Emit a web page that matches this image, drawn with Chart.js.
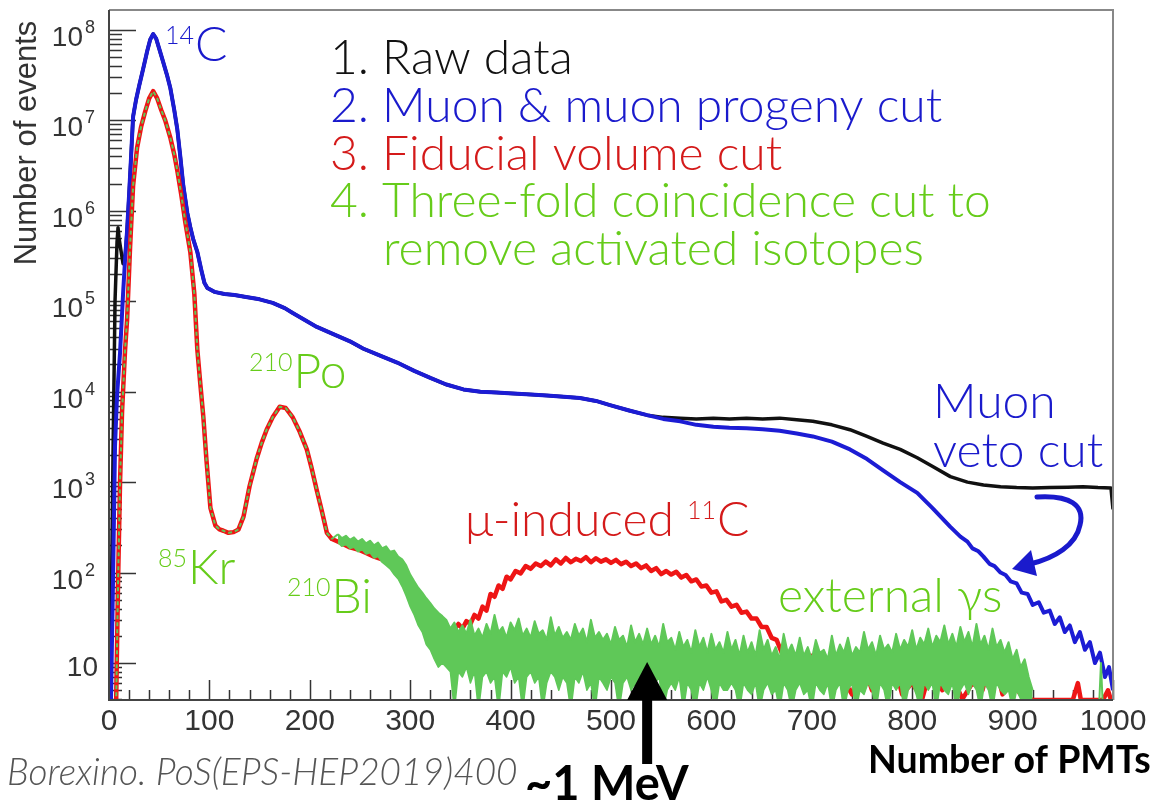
<!DOCTYPE html>
<html>
<head>
<meta charset="utf-8">
<script src="https://cdn.jsdelivr.net/npm/chart.js@4.4.0/dist/chart.umd.min.js"></script>
<style>
html,body{margin:0;padding:0;background:#fff;}
#wrap{width:1154px;height:802px;}
</style>
</head>
<body>
<div id="wrap"><canvas id="c" width="1154" height="802"></canvas></div>
<script>
// 2. muon & muon progeny cut (blue)
const muonX = [0,2,4,6,8,11,14,16,18,20,22,24,27,30,34,38,41,44,47,50,54,58,61,65,68,71,74,78,81,84,88,92,95,98,105,115,125,135,150,163,175,183,195,207,220,240,253,270,287,304,320,336,353,370,386,398,420,436,453,469,485,499,518,536,552,569,585,602,618,635,651,668,685,701,720,738,755,771,788,805,820,838,848,855,860,866,871,877,882,888,893,898,904,909,915,920,926,931,937,942,947,952,957,962,967,972,977,982,987,992,996,1000];
const muonY = [3,4,80,2500,9000,2.7e4,1.2e5,2.9e5,6e5,1.5e6,4e6,1.1e7,1.7e7,2.4e7,3.7e7,5.8e7,7.8e7,9e7,8e7,6.2e7,4.4e7,3.1e7,2.3e7,1.3e7,8e6,4e6,1.9e6,9.5e5,6.6e5,4.8e5,3.5e5,2.2e5,1.6e5,1.4e5,1.27e5,1.2e5,1.17e5,1.12e5,1.05e5,9.6e4,8.4e4,7.4e4,6.2e4,5.2e4,4.5e4,3.6e4,3.0e4,2.5e4,2.1e4,1.7e4,1.42e4,1.2e4,1.06e4,1e4,9.8e3,9.6e3,9.3e3,9.1e3,8.8e3,8.5e3,7.9e3,7.1e3,6.2e3,5.5e3,5.0e3,4.7e3,4.3e3,4.1e3,4.0e3,3.95e3,3.85e3,3.7e3,3.45e3,3.2e3,2.8e3,2.3e3,1.8e3,1.35e3,1.0e3,760,520,320,250,220,185,172,150,125,118,100,94,80,76,60,58,44,47,36,38,27,32,22,26,17,22,14,17,10,13,7,9,5];

// 1. raw data (black): own values below 20 and above 540, follows the blue curve in between
const rawLowX = [0,2,4,6,8,9,10,12,14,16,18];
const rawLowY = [3,20,2000,1e5,4.5e5,6.5e5,5e5,3.6e5,2.6e5,3e5,6e5];
const rawHighX = [552,569,585,602,618,635,651,668,685,701,720,738,755,771,788,805,820,838,855,871,888,904,920,937,955,970,985,998,1000];
const rawHighY = [5.2e3,5.1e3,5.0e3,5.1e3,5.0e3,5.1e3,5.0e3,5.1e3,4.9e3,4.7e3,4.3e3,3.8e3,3.2e3,2.7e3,2.3e3,1.86e3,1.5e3,1.15e3,1.0e3,930,890,870,860,870,880,890,870,860,500];

// 3. fiducial volume cut (red) and 4. three-fold coincidence (green) share the low-energy part
const fidPeakX = [0,7,9,11,13,16,18,21,24,28,32,36,40,44,48,52,56,61,65,68,72,76,81,85,88,91,94,97,101,106,110,114,119,124,129,134,140,147,152,157,163,170,176,183,190,197,202,207,212,217,222];
const fidPeakY = [3,3,76,1000,6000,2.9e4,6.2e4,4e5,1.9e6,5e6,8.5e6,1.25e7,1.75e7,2.1e7,1.75e7,1.3e7,1e7,6.5e6,4.2e6,2.8e6,1.5e6,7.5e5,3.5e5,1.2e5,2.9e4,1.2e4,5200,1800,520,330,300,290,275,280,300,415,900,1800,2700,3800,5200,6800,6600,5200,3600,2300,1400,810,480,275,235];

const fidTailX = [226,232,240,248,256,264,272,280,288,296,304,312,320,328,336,342,348,352,356,360,364,368,372,376,380,384,388,392,396,400,405,410,415,420,425,430,435,440,445,450,455,460,465,470,475,480,485,490,495,500,505,510,515,520,525,530,535,540,545,550,555,560,565,570,575,580,585,590,595,600,605,610,615,620,625,630,635,640,645,650,655,660,665,670,675,680,690,700,710,720,730,740,750,760,770,780,790,800,810,820,830,840,850,860,870,880,890,900,910,920,930,960,965,968,990,995,998,1000];
const fidTailY = [225,210,190,180,165,150,140,122,105,75,54,40,32,27,24,22,27,24,29,27,34,31,42,38,58,54,72,66,90,84,104,98,118,110,126,118,132,120,140,126,145,130,142,134,148,130,144,132,140,128,138,124,132,118,126,112,120,104,112,96,104,95,102,88,94,80,84,70,72,60,62,48,50,42,44,36,37,31,31,25,25,19,18,13,12,9,8,12,8,5,7,4.5,11,5,7,12,4.5,6,4,10,5,7,4,6,5,13,4.5,6,4.2,3.9,3.9,3.9,6,3.9,3.9,5,3.9,3.9];

// green noisy histogram band after the 210Po peak: upper and lower edge, 228..920 every 4 PMTs
const tfcBandX = [228,232,236,240,244,248,252,256,260,264,268,272,276,280,284,288,292,296,300,304,308,312,316,320,324,328,332,336,340,344,348,352,356,360,364,368,372,376,380,384,388,392,396,400,404,408,412,416,420,424,428,432,436,440,444,448,452,456,460,464,468,472,476,480,484,488,492,496,500,504,508,512,516,520,524,528,532,536,540,544,548,552,556,560,564,568,572,576,580,584,588,592,596,600,604,608,612,616,620,624,628,632,636,640,644,648,652,656,660,664,668,672,676,680,684,688,692,696,700,704,708,712,716,720,724,728,732,736,740,744,748,752,756,760,764,768,772,776,780,784,788,792,796,800,804,808,812,816,820,824,828,832,836,840,844,848,852,856,860,864,868,872,876,880,884,888,892,896,900,904,908,912,916,920];
const tfcTopY = [
  265,240,255,230,245,220,235,210,225,200,215,185,195,170,175,150,140,120,95,80,68,60,52,46,40,36,33,
  30,24,28,22,26,21,30,20,24,19,
  27,21,34,22,25,19,28,23,31,20,
  24,19,29,21,23,18,32,20,25,19,
  22,18,27,20,24,17,30,19,22,18,
  21,16,25,18,20,15,26,17,21,16,
  24,16,20,15,27,17,19,14,22,15,
  18,13,23,15,19,13,21,14,17,13,
  22,14,18,12,20,13,17,12,23,14,
  18,12,15,11,21,13,16,12,19,12,
  15,11,18,13,14,11,20,12,16,13,
  19,12,15,13,22,14,17,12,20,14,
  16,13,21,14,18,15,23,14,19,16,
  24,15,20,17,26,16,21,15,25,17,
  22,15,27,16,20,14,24,15,18,13,
  17,11,14,9,11,7,5];
const tfcBotY = [
  215,195,205,185,190,170,180,160,165,145,150,130,120,110,95,85,70,55,42,34,26,22,16,14,11,9,10,
  9,8,3,8,7,9,6,8,3,7,
  8,6,7,3,8,7,9,6,7,3,
  7,8,6,7,3,6,8,7,5,7,
  6,3,7,6,8,5,6,3,7,6,
  5,7,6,3,6,7,5,6,3,6,
  7,5,6,7,3,5,6,5,7,3,
  6,5,3,6,5,7,5,3,6,5,
  5,6,5,3,6,5,4.5,6,3,5,
  6,4.5,5,3,6,5,3,5,6,4.5,
  5,3,6,5,4.5,6,3,5,6,3,
  5,6,3,5,4.5,6,5,3,6,5,
  3,6,5,6,3,5,6,4.5,3,6,
  5,6,3,6,5,4.5,6,3,5,6,
  4.5,6,5,3,6,5,3,6,5,4.5,
  5,3,5,4,3,3,3];
// green after the band: empty bins with one isolated count
const tfcEndX = [920,924,986,988,990,1000];
const tfcEndY = [3,3,3,10,3,3];

const xTicks = [0,100,200,300,400,500,600,700,800,900,1000];
const yDecades = [1,2,3,4,5,6,7,8];
const legendLines = [
  ['1. Raw data', '#111111'],
  ['2. Muon & muon progeny cut', '#1a1acc'],
  ['3. Fiducial volume cut', '#d41a1a'],
  ['4. Three-fold coincidence cut to', '#66cc1a'],
  ['remove activated isotopes', '#66cc1a']
];
const mevAt = 536;

function pts(xs, ys) { return xs.map((v, i) => ({x: v, y: ys[i]})); }

const rawPts = pts(rawLowX, rawLowY)
  .concat(pts(muonX, muonY).filter(p => p.x >= 20 && p.x <= 536))
  .concat(pts(rawHighX, rawHighY));
const fidPts = pts(fidPeakX, fidPeakY).concat(pts(fidTailX, fidTailY));
const tfcHead = pts(fidPeakX, fidPeakY).concat([{x: tfcBandX[0], y: tfcTopY[0]}]);

const LIGHT = '300 48px Lato, "Noto Sans", sans-serif';
const SUP = '300 25px Lato, "Noto Sans", sans-serif';
const GREEN = '#5fc858';

// text with superscript parts: [['14', true], ['C', false]]
function supText(ctx, parts, x, y, color) {
  ctx.fillStyle = color;
  ctx.textAlign = 'left';
  ctx.textBaseline = 'alphabetic';
  let cx = x;
  parts.forEach(([t, sup]) => {
    ctx.font = sup ? SUP : LIGHT;
    ctx.fillText(t, cx, sup ? y - 17 : y);
    cx += ctx.measureText(t).width + (sup ? 1 : 0);
  });
}

const decoPlugin = {
  id: 'deco',
  beforeDatasetsDraw(chart) {
    const {ctx, chartArea: a, scales: {x, y}} = chart;
    ctx.save();
    ctx.strokeStyle = '#333';
    ctx.lineWidth = 1.5;
    ctx.beginPath();
    for (let e = 0; e <= 8; e++) {
      for (let m = 1; m < 10; m++) {
        const v = m * Math.pow(10, e);
        if (v < y.min || v > y.max) continue;
        const py = Math.round(y.getPixelForValue(v)) + 0.5;
        ctx.moveTo(a.left, py);
        ctx.lineTo(a.left + (m === 1 ? 27 : 13), py);
      }
    }
    for (let v = 0; v <= 1000; v += 20) {
      const px = Math.round(x.getPixelForValue(v)) + 0.5;
      ctx.moveTo(px, a.bottom);
      ctx.lineTo(px, a.bottom - (v % 100 === 0 ? 20 : 10));
    }
    ctx.stroke();
    ctx.restore();
  },
  afterDatasetsDraw(chart) {
    const {ctx, chartArea: a, scales: {x, y}} = chart;
    ctx.save();
    // frame
    ctx.lineWidth = 2;
    ctx.strokeStyle = '#888';
    ctx.beginPath();
    ctx.moveTo(a.left, a.top); ctx.lineTo(a.right, a.top); ctx.lineTo(a.right, a.bottom);
    ctx.stroke();
    ctx.strokeStyle = '#444';
    ctx.beginPath();
    ctx.moveTo(a.left, a.top); ctx.lineTo(a.left, a.bottom); ctx.lineTo(a.right, a.bottom);
    ctx.stroke();

    // y tick labels 10^n
    ctx.fillStyle = '#333';
    ctx.textBaseline = 'alphabetic';
    yDecades.forEach(e => {
      const py = y.getPixelForValue(Math.pow(10, e));
      ctx.font = '28px "Liberation Sans", Arial, sans-serif';
      if (e === 1) {
        ctx.textAlign = 'right';
        ctx.fillText('10', 98, py + 13);
      } else {
        ctx.textAlign = 'right';
        ctx.fillText('10', 83, py + 16);
        ctx.font = '18px "Liberation Sans", Arial, sans-serif';
        ctx.textAlign = 'left';
        ctx.fillText(String(e), 85, py + 3);
      }
    });

    // y axis title
    ctx.save();
    ctx.translate(36, 143);
    ctx.rotate(-Math.PI / 2);
    ctx.textAlign = 'center';
    ctx.font = '31px "Liberation Sans", Arial, sans-serif';
    ctx.fillStyle = '#333';
    ctx.fillText('Number of events', 0, 0);
    ctx.restore();

    // legend text
    ctx.textAlign = 'left';
    legendLines.forEach(([t, c], i) => {
      ctx.font = LIGHT;
      ctx.fillStyle = c;
      ctx.fillText(t, i === 4 ? 383 : 330, 74 + i * 47.8);
    });

    // annotations
    supText(ctx, [['14', true], ['C', false]], 165, 61, '#1a1acc');
    supText(ctx, [['210', true], ['Po', false]], 249, 388, '#66cc1a');
    supText(ctx, [['85', true], ['Kr', false]], 158, 584, '#66cc1a');
    supText(ctx, [['210', true], ['Bi', false]], 287, 613, '#66cc1a');
    supText(ctx, [['μ-induced ', false], ['11', true], ['C', false]], 465, 536, '#d41a1a');
    supText(ctx, [['external γs', false]], 778, 612, '#66cc1a');
    supText(ctx, [['Muon', false]], 933, 418, '#1a1acc');
    supText(ctx, [['veto cut', false]], 933, 467, '#1a1acc');

    // curved blue arrow (muon veto)
    ctx.strokeStyle = '#1a1acc';
    ctx.fillStyle = '#1a1acc';
    ctx.lineWidth = 5;
    ctx.lineCap = 'round';
    ctx.beginPath();
    ctx.moveTo(1037, 497);
    ctx.bezierCurveTo(1070, 495, 1085, 505, 1080, 525);
    ctx.bezierCurveTo(1076, 545, 1055, 558, 1030, 564);
    ctx.stroke();
    ctx.beginPath();
    ctx.moveTo(1012, 569);
    ctx.lineTo(1031, 550);
    ctx.lineTo(1037, 576);
    ctx.closePath();
    ctx.fill();

    // ~1 MeV arrow
    const ax = x.getPixelForValue(mevAt);
    ctx.fillStyle = '#000';
    ctx.fillRect(ax - 5, a.bottom - 2, 10, 66);
    ctx.beginPath();
    ctx.moveTo(ax, a.bottom - 38);
    ctx.lineTo(ax - 20, a.bottom);
    ctx.lineTo(ax + 20, a.bottom);
    ctx.closePath();
    ctx.fill();

    ctx.font = 'bold 47px Lato, "Noto Sans", sans-serif';
    ctx.fillText('~1 MeV', 525, 800);
    ctx.font = 'bold 37.5px Lato, "Noto Sans", sans-serif';
    ctx.fillText('Number of PMTs', 868, 773);
    ctx.font = 'italic 300 37px Lato, "Noto Sans", sans-serif';
    ctx.fillStyle = '#555';
    ctx.fillText('Borexino. PoS(EPS-HEP2019)400', 7, 785);
    ctx.restore();
  }
};

new Chart(document.getElementById('c'), {
  type: 'line',
  data: {
    datasets: [
      {label: 'Three-fold coincidence cut', data: tfcHead, borderColor: GREEN, borderWidth: 2, order: 1,
       segment: {borderDash: c => c.p1.parsed.x <= 222 ? [4, 3] : undefined}},
      {label: 'Three-fold coincidence cut (band top)', data: pts(tfcBandX, tfcTopY), borderColor: GREEN, backgroundColor: GREEN,
       borderWidth: 2, fill: '+1', order: 1},
      {label: 'Three-fold coincidence cut (band bottom)', data: pts(tfcBandX, tfcBotY), borderColor: GREEN, borderWidth: 1.5, order: 1},
      {label: 'Three-fold coincidence cut (end)', data: pts(tfcEndX, tfcEndY), borderColor: GREEN, borderWidth: 2, order: 1},
      {label: 'Fiducial volume cut', data: fidPts, borderColor: '#ee1515', borderWidth: 4.5, order: 2},
      {label: 'Muon & muon progeny cut', data: pts(muonX, muonY), borderColor: '#1c1cd4', borderWidth: 4, order: 3},
      {label: 'Raw data', data: rawPts, borderColor: '#111111', borderWidth: 3.5, order: 4}
    ]
  },
  options: {
    responsive: false,
    animation: false,
    devicePixelRatio: 1,
    layout: {padding: {top: 10, right: 41, left: 0, bottom: 0}},
    plugins: {legend: {display: false}, tooltip: {enabled: false}, filler: {drawTime: 'beforeDatasetDraw'}},
    elements: {point: {radius: 0}, line: {tension: 0, borderJoinStyle: 'round'}},
    scales: {
      x: {
        type: 'linear', min: 0, max: 1000,
        grid: {display: false, drawTicks: false}, border: {display: false},
        afterBuildTicks: s => { s.ticks = xTicks.map(v => ({value: v})); },
        ticks: {font: {family: '"Liberation Sans", Arial, sans-serif', size: 30}, color: '#333', padding: 4, maxRotation: 0, autoSkip: false,
                callback: v => String(v)},
        afterFit: s => { s.height = 102; }
      },
      y: {
        type: 'logarithmic', min: 3.9, max: 1.66e8,
        grid: {display: false, drawTicks: false}, border: {display: false},
        ticks: {display: false},
        afterFit: s => { s.width = 109; }
      }
    }
  },
  plugins: [decoPlugin]
});
</script>
</body>
</html>
